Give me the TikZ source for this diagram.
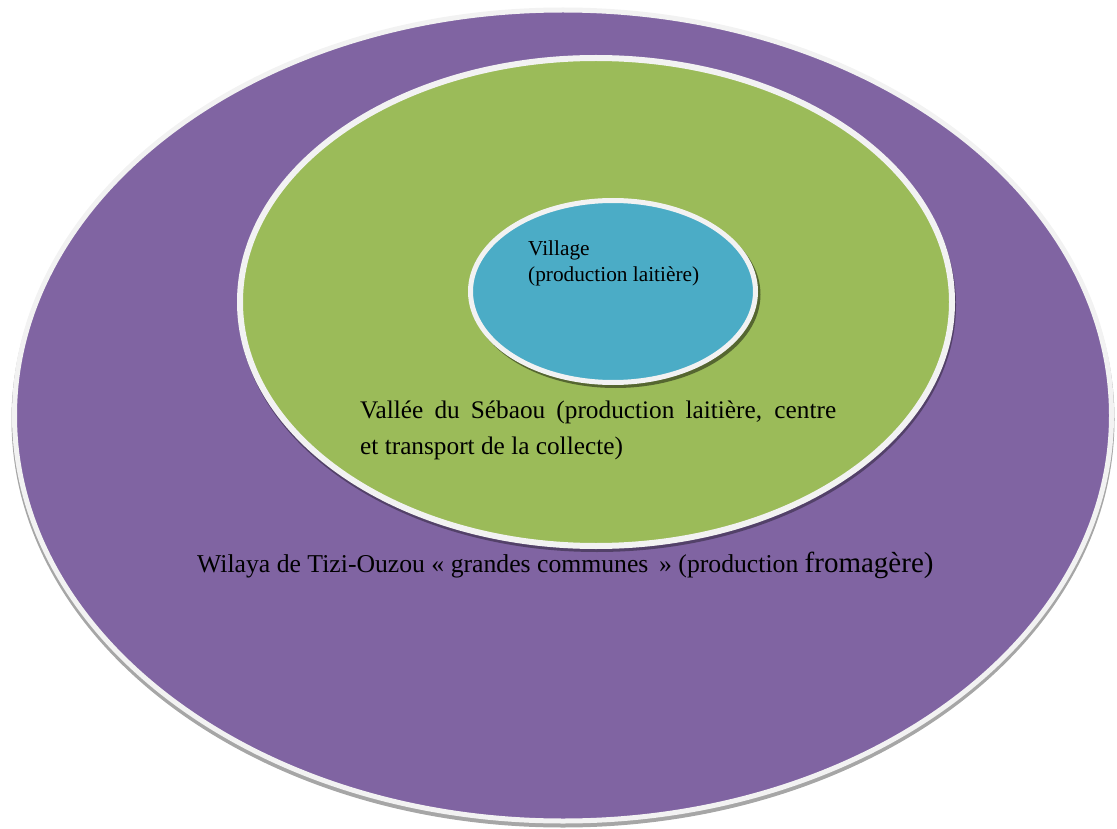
\documentclass[tikz,border=0pt]{standalone}
\usepackage{fontspec}
\setmainfont{Liberation Serif}
\usetikzlibrary{shapes.geometric}
\definecolor{wpurple}{HTML}{8064A2}
\definecolor{wgreen}{HTML}{9BBB59}
\definecolor{wblue}{HTML}{4BACC6}
\definecolor{wborder}{HTML}{F2F2F2}
\begin{document}
\begin{tikzpicture}[x=1pt,y=-1pt,
  ring/.style={ellipse, inner sep=0pt, draw=wborder},
  shade/.style={ellipse, inner sep=0pt, fill=black, opacity=#1},
  label/.style={anchor=base west, inner sep=0pt, text=black}]
\useasboundingbox (0,0) rectangle (1117,829);
% outer
\node[shade=0.35, minimum width=1103pt, minimum height=816pt] (sh1) at (563,419.5) {};
\node[ring, fill=wpurple, line width=5pt, minimum width=1097pt, minimum height=811pt] (outer) at (563,415.5) {};
% middle
\node[shade=0.35, minimum width=718pt, minimum height=494pt] (sh2) at (597,305) {};
\node[ring, fill=wgreen, line width=6pt, minimum width=712pt, minimum height=488pt] (mid) at (596,302) {};
% inner
\node[shade=0.45, minimum width=290pt, minimum height=187pt] (sh3) at (615.5,294.5) {};
\node[ring, fill=wblue, line width=5pt, minimum width=285pt, minimum height=182pt] (inner) at (613,291.5) {};
% texts
\node[label, font=\fontsize{21.3}{26}\selectfont] (tvillage) at (528,256)
  {\vtop{\hbox{Village}\hbox{(production laitière)}}};
\node[label, font=\fontsize{25.3}{36}\selectfont] (tvallee) at (360,418)
  {\vtop{\hbox{\makebox[476pt][s]{Vallée du Sébaou (production laitière, centre}}\hbox{et transport de la collecte)}}};
\node[label, font=\fontsize{25.7}{30}\selectfont] (twilaya) at (197,572)
  {Wilaya de Tizi-Ouzou « grandes communes\,\ » (production {\fontsize{29}{34}\selectfont fromagère)}};
\end{tikzpicture}
\end{document}
